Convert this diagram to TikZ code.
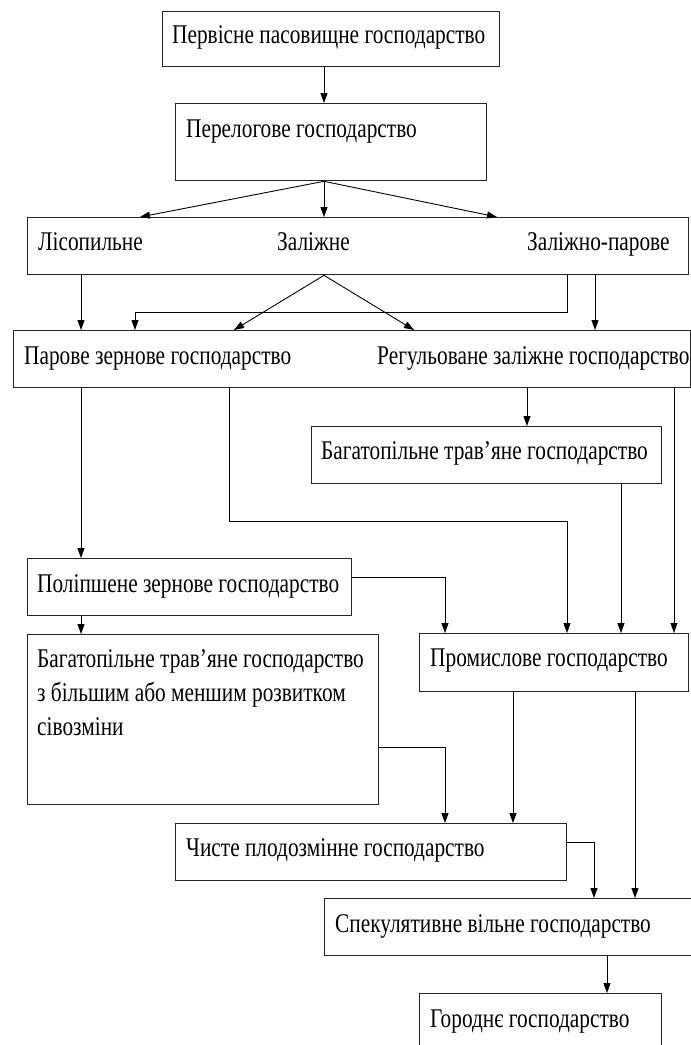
\documentclass[tikz,border=0pt]{standalone}
\usepackage{fontspec}
\setmainfont[FakeStretch=0.79]{Liberation Serif}
\usetikzlibrary{arrows.meta}
\tikzset{
  box/.style={draw=black!85, line width=1.3pt, inner sep=0pt, anchor=north west},
  txt/.style={anchor=base west, inner sep=0pt, font=\fontsize{27}{34}\selectfont},
  arr/.style={draw=black, line width=0.9pt, -{Triangle[length=10pt,width=7pt]}},
  ln/.style={draw=black, line width=0.9pt},
}
\newcommand{\mkbox}[5]{\node[box, minimum width=#4pt-#2pt, minimum height=#5pt-#3pt] (#1) at (#2,#3) {};}
\begin{document}
\begin{tikzpicture}[x=1pt,y=-1pt]
\useasboundingbox (0,0) rectangle (691,1045);
\mkbox{b1}{162}{11}{499}{66}
\mkbox{b2}{175}{103}{486}{180}
\mkbox{b3}{27}{217}{688}{274}
\mkbox{b4}{13}{330}{690}{387}
\mkbox{b5}{311}{426}{661}{483}
\mkbox{b6}{27}{558}{351}{615}
\mkbox{b7}{27}{634}{378}{804}
\mkbox{b8}{419}{633}{688}{691}
\mkbox{b9}{175}{823}{566}{880}
\mkbox{b10}{324}{898}{700}{955}
\mkbox{b11}{419}{993}{661}{1055}
% texts
\node[txt] (t1) at (172,43) {Первісне пасовищне господарство};
\node[txt] (t2) at (186,137) {Перелогове господарство};
\node[txt] (t3a) at (38,250) {Лісопильне};
\node[txt] (t3b) at (277,250) {Заліжне};
\node[txt] (t3c) at (527,250) {Заліжно-парове};
\node[txt] (t4a) at (24,364) {Парове зернове господарство};
\node[txt] (t4b) at (377,364) {Регульоване заліжне господарство};
\node[txt] (t5) at (321,459) {Багатопільне трав’яне господарство};
\node[txt] (t6) at (37,592) {Поліпшене зернове господарство};
\node[txt] (t7a) at (37,667) {Багатопільне трав’яне господарство};
\node[txt] (t7b) at (37,701) {з більшим або меншим розвитком};
\node[txt] (t7c) at (37,735) {сівозміни};
\node[txt] (t8) at (430,666) {Промислове господарство};
\node[txt] (t9) at (186,856) {Чисте плодозмінне господарство};
\node[txt] (t10) at (335,932) {Спекулятивне вільне господарство};
\node[txt] (t11) at (430,1027) {Городнє господарство};
% connectors
\draw[arr] (324,0 |- b1.south) -- (324,0 |- b2.north);
\draw[arr] (324,0 |- b2.south) -- (140,0 |- b3.north);
\draw[arr] (324,0 |- b2.south) -- (324,0 |- b3.north);
\draw[arr] (324,0 |- b2.south) -- (497,0 |- b3.north);
\draw[arr] (81,0 |- b3.south) -- (81,0 |- b4.north);
\draw[arr] (324,0 |- b3.south) -- (234,0 |- b4.north);
\draw[arr] (324,0 |- b3.south) -- (414,0 |- b4.north);
\draw[arr] (567,0 |- b3.south) -- (567,312) -- (135,312) -- (135,0 |- b4.north);
\draw[arr] (595,0 |- b3.south) -- (595,0 |- b4.north);
\draw[arr] (81,0 |- b4.south) -- (81,0 |- b6.north);
\draw[arr] (229,0 |- b4.south) -- (229,521) -- (567,521) -- (567,0 |- b8.north);
\draw[arr] (527,0 |- b4.south) -- (527,0 |- b5.north);
\draw[arr] (674,0 |- b4.south) -- (674,0 |- b8.north);
\draw[arr] (621,0 |- b5.south) -- (621,0 |- b8.north);
\draw[arr] (b6.east |- 0,577) -- (445,577) -- (445,0 |- b8.north);
\draw[arr] (81,0 |- b6.south) -- (81,0 |- b7.north);
\draw[arr] (b7.east |- 0,747) -- (445,747) -- (445,0 |- b9.north);
\draw[arr] (513,0 |- b8.south) -- (513,0 |- b9.north);
\draw[arr] (635,0 |- b8.south) -- (635,0 |- b10.north);
\draw[arr] (b9.east |- 0,842) -- (594,842) -- (594,0 |- b10.north);
\draw[arr] (607,0 |- b10.south) -- (607,0 |- b11.north);
\end{tikzpicture}
\end{document}
